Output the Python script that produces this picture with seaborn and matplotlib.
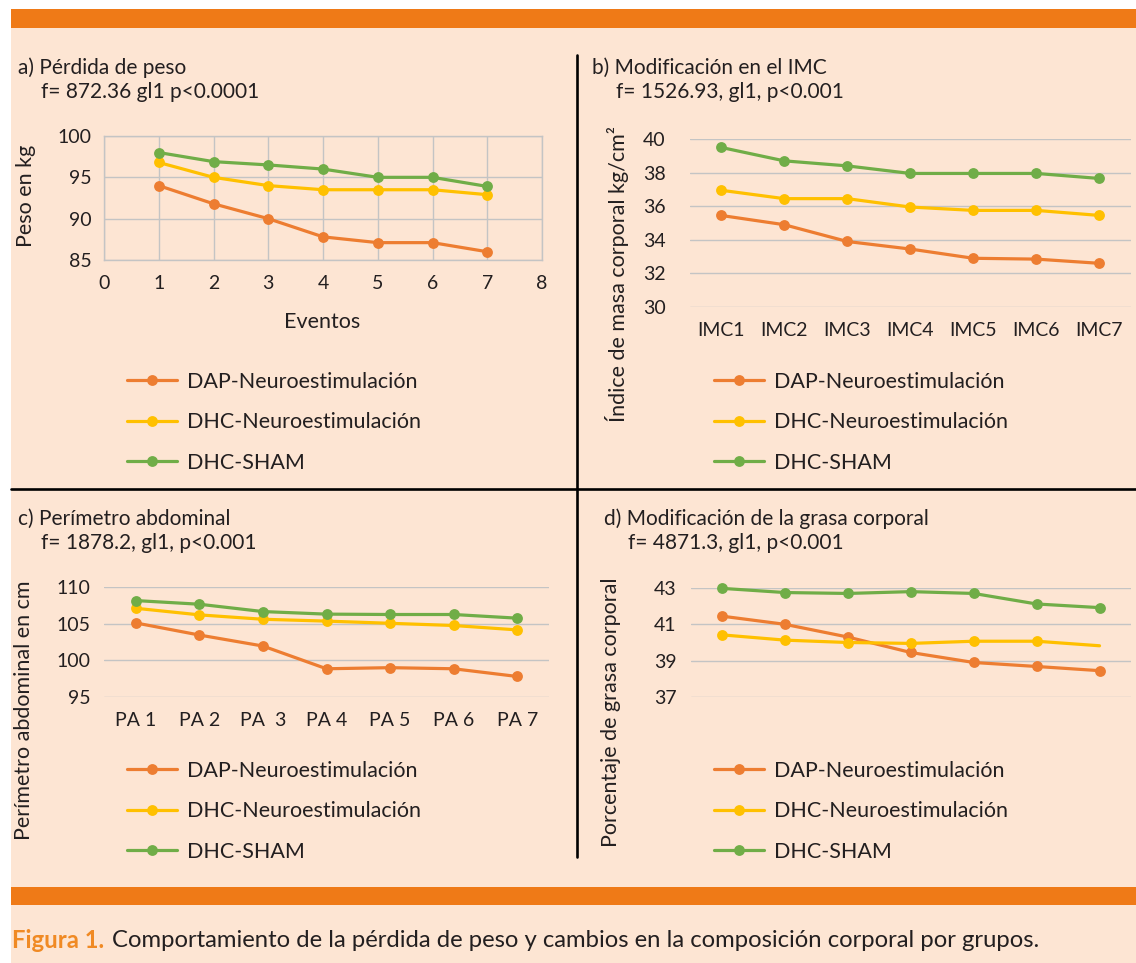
import numpy as np
import pandas as pd
import matplotlib
matplotlib.use("Agg")
import matplotlib.pyplot as plt
import matplotlib.colors as mcolors
from matplotlib.patches import Rectangle
from matplotlib.lines import Line2D
import seaborn as sns

# ---------------- data ----------------
groups = ["DAP-Neuroestimulación", "DHC-Neuroestimulación", "DHC-SHAM"]
colors = ["#ED7D31", "#FFC000", "#70AD47"]

# a) Pérdida de peso
a_events = [1, 2, 3, 4, 5, 6, 7]
a_dap = [94.0, 91.8, 90.0, 87.8, 87.1, 87.1, 86.0]
a_dhc = [96.8, 95.0, 94.0, 93.5, 93.5, 93.5, 92.9]
a_sham = [98.0, 96.9, 96.5, 96.0, 95.0, 95.0, 93.9]

# b) Modificación en el IMC
b_categories = ["IMC1", "IMC2", "IMC3", "IMC4", "IMC5", "IMC6", "IMC7"]
b_dap = [35.45, 34.9, 33.9, 33.45, 32.9, 32.85, 32.6]
b_dhc = [36.95, 36.45, 36.45, 35.95, 35.75, 35.75, 35.45]
b_sham = [39.5, 38.7, 38.4, 37.95, 37.95, 37.95, 37.65]

# c) Perímetro abdominal
c_categories = ["PA 1", "PA 2", "PA  3", "PA 4", "PA 5", "PA 6", "PA 7"]
c_dap = [105.1, 103.45, 101.95, 98.85, 99.0, 98.85, 97.8]
c_dhc = [107.1, 106.2, 105.6, 105.35, 105.05, 104.75, 104.15]
c_sham = [108.15, 107.65, 106.65, 106.3, 106.25, 106.25, 105.75]

# d) Modificación de la grasa corporal
d_categories = ["1", "2", "3", "4", "5", "6", "7"]
d_dap = [41.45, 41.0, 40.3, 39.45, 38.9, 38.68, 38.45]
d_dhc = [40.42, 40.13, 40.0, 39.95, 40.07, 40.07, 39.82]
d_sham = [42.98, 42.75, 42.7, 42.8, 42.7, 42.12, 41.92]

titles = [
    ("a) Pérdida de peso", "f= 872.36 gl1 p<0.0001"),
    ("b) Modificación en el IMC", "f= 1526.93, gl1, p<0.001"),
    ("c) Perímetro abdominal", "f= 1878.2, gl1, p<0.001"),
    ("d) Modificación de la grasa corporal", "f= 4871.3, gl1, p<0.001"),
]
ylabels = ["Peso en kg", "Índice de masa corporal kg/cm²",
           "Perímetro abdominal en cm", "Porcentaje de grasa corporal"]
xlabel_a = "Eventos"
caption_bold = "Figura 1."
caption_text = "Comportamiento de la pérdida de peso y cambios en la composición corporal por grupos."

# ---------------- style ----------------
sns.set_style("white")
plt.rcParams["font.family"] = ["Lato", "DejaVu Sans"]
TXT = "#231F20"
GRID = "#C4C4C4"
CREAM = "#FDE5D3"
ORANGE = "#EF7A17"
FS_TICK = 14
FS_TITLE = 15
FS_LAB = 15.5
FS_LEG = 15.5

W, H = 1136, 963
fig = plt.figure(figsize=(W / 100, H / 100), dpi=100)
fig.patch.set_facecolor("white")


def P(x, y):
    return (x / W, 1 - y / H)


def box(x0, y0, x1, y1):
    return [x0 / W, 1 - y1 / H, (x1 - x0) / W, (y1 - y0) / H]


def frect(x0, y0, x1, y1, color):
    fig.add_artist(Rectangle(P(x0, y1), (x1 - x0) / W, (y1 - y0) / H,
                             transform=fig.transFigure, facecolor=color,
                             edgecolor="none", zorder=-10))


# background, bars, dividers
frect(10.7, 27.7, W, H, CREAM)
frect(10.7, 9.3, W, 27.7, ORANGE)
frect(10.7, 887, W, 905, ORANGE)
fig.add_artist(Line2D([577 / W, 577 / W], [P(0, 55)[1], P(0, 857)[1]],
                      transform=fig.transFigure, color="black", lw=1.9, zorder=-5))
fig.add_artist(Line2D([10.7 / W, 1.0], [P(0, 489)[1], P(0, 489)[1]],
                      transform=fig.transFigure, color="black", lw=1.9, zorder=-5))


def long_df(x, series):
    return pd.DataFrame({
        "x": np.tile(np.asarray(x, dtype=float), len(series)),
        "valor": np.concatenate([np.asarray(s, dtype=float) for s in series]),
        "grupo": np.repeat(groups, len(x)),
    })


def draw(ax, x, series):
    df = long_df(x, series)
    sns.lineplot(data=df, x="x", y="valor", hue="grupo", hue_order=groups,
                 palette=colors, marker="o", markersize=7.8, markeredgewidth=0,
                 linewidth=2.3, ax=ax, legend=True, sort=False, clip_on=False)
    leg = ax.get_legend()
    handles = list(leg.legend_handles)
    leg.remove()
    for h, c in zip(handles, colors):
        h.set_color(c)
        h.set_marker("o")
        h.set_markersize(7.8)
        h.set_markeredgewidth(0)
        h.set_linewidth(2.3)
    ax.set_facecolor("none")
    ax.set_xlabel("")
    ax.set_ylabel("")
    ax.tick_params(length=0, labelsize=FS_TICK, colors=TXT)
    return handles


def add_legend(handles, x, y_top):
    fig.legend(handles, groups, loc="upper left", bbox_to_anchor=P(x, y_top),
               bbox_transform=fig.transFigure, frameon=False, fontsize=FS_LEG,
               handlelength=2.3, handletextpad=0.5, labelspacing=0.95,
               borderpad=0, borderaxespad=0, labelcolor=TXT)


def ylab(ax, text, x, y):
    ax.set_ylabel(text, fontsize=FS_LAB, color=TXT)
    ax.yaxis.set_label_coords(*P(x, y), transform=fig.transFigure)
    ax.yaxis.label.set_va("center")


# ---- panel a ----
ax_a = fig.add_axes(box(104, 136, 542, 260))
h = draw(ax_a, a_events, [a_dap, a_dhc, a_sham])
ax_a.set_xlim(0, 8)
ax_a.set_ylim(85, 100)
ax_a.set_xticks(range(0, 9))
ax_a.set_yticks([85, 90, 95, 100])
ax_a.grid(True, axis="both", color=GRID, lw=1)
for s in ax_a.spines.values():
    s.set_visible(True)
    s.set_color(GRID)
    s.set_linewidth(1)
ax_a.tick_params(axis="y", pad=9)
ax_a.tick_params(axis="x", pad=11)
ax_a.set_xlabel(xlabel_a, fontsize=FS_LAB, color=TXT)
ax_a.xaxis.set_label_coords(*P(322, 322), transform=fig.transFigure)
ax_a.xaxis.label.set_va("center")
ylab(ax_a, ylabels[0], 26, 196)
add_legend(h, 127, 372)


def cat_axes(rect, cats, series, ylim, yticks, ypad, show_x=True):
    ax = fig.add_axes(rect)
    pos = np.arange(len(cats))
    hh = draw(ax, pos, series)
    ax.set_xlim(-0.5, len(cats) - 0.5)
    ax.set_ylim(*ylim)
    ax.set_yticks(yticks)
    ax.set_xticks(pos, cats if show_x else [""] * len(cats))
    ax.grid(True, axis="y", color=GRID, lw=1)
    ax.grid(False, axis="x")
    for s in ax.spines.values():
        s.set_visible(False)
    ax.tick_params(axis="y", pad=ypad)
    ax.tick_params(axis="x", pad=11)
    return ax, hh


# ---- panel b ----
ax_b, h = cat_axes(box(689.5, 139, 1131, 307), b_categories, [b_dap, b_dhc, b_sham],
                   (30, 40), [30, 32, 34, 36, 38, 40], 17)
ylab(ax_b, ylabels[1], 617, 274)
add_legend(h, 714, 372)

# ---- panel c ----
ax_c, h = cat_axes(box(104, 587, 549, 697), c_categories, [c_dap, c_dhc, c_sham],
                   (95, 110), [95, 100, 105, 110], 9.5)
ylab(ax_c, ylabels[2], 24, 710)
add_legend(h, 127, 761)

# ---- panel d ----
ax_d, h = cat_axes(box(690.6, 588, 1131, 697), d_categories, [d_dap, d_dhc, d_sham],
                   (37, 43), [37, 39, 41, 43], 10, show_x=False)
for ln in ax_d.lines:
    if mcolors.same_color(ln.get_color(), colors[1]):
        ln.set_markevery(list(range(len(d_categories) - 1)))
ylab(ax_d, ylabels[3], 611, 712)
add_legend(h, 714, 761)

# ---- titles ----
title_pos = [((18, 68), (41, 92)), ((592, 68), (616, 92)),
             ((18, 519), (41, 543)), ((604, 519), (628, 543))]
for (t1, t2), ((x1, y1), (x2, y2)) in zip(titles, title_pos):
    fig.text(*P(x1, y1), t1, fontsize=FS_TITLE, color=TXT, va="center", ha="left")
    fig.text(*P(x2, y2), t2, fontsize=FS_TITLE, color=TXT, va="center", ha="left")

# ---- caption ----
cfs = 17.2
t_b = fig.text(*P(12, 940), caption_bold, fontsize=cfs, color="#F08A24",
               fontweight="bold", va="center", ha="left")
fig.canvas.draw()
ext = t_b.get_window_extent(renderer=fig.canvas.get_renderer())
fig.text(ext.x1 / W + 8 / W, P(0, 940)[1], caption_text, fontsize=cfs, color=TXT,
         va="center", ha="left")

fig.savefig("out.png", dpi=100, facecolor=fig.get_facecolor())
